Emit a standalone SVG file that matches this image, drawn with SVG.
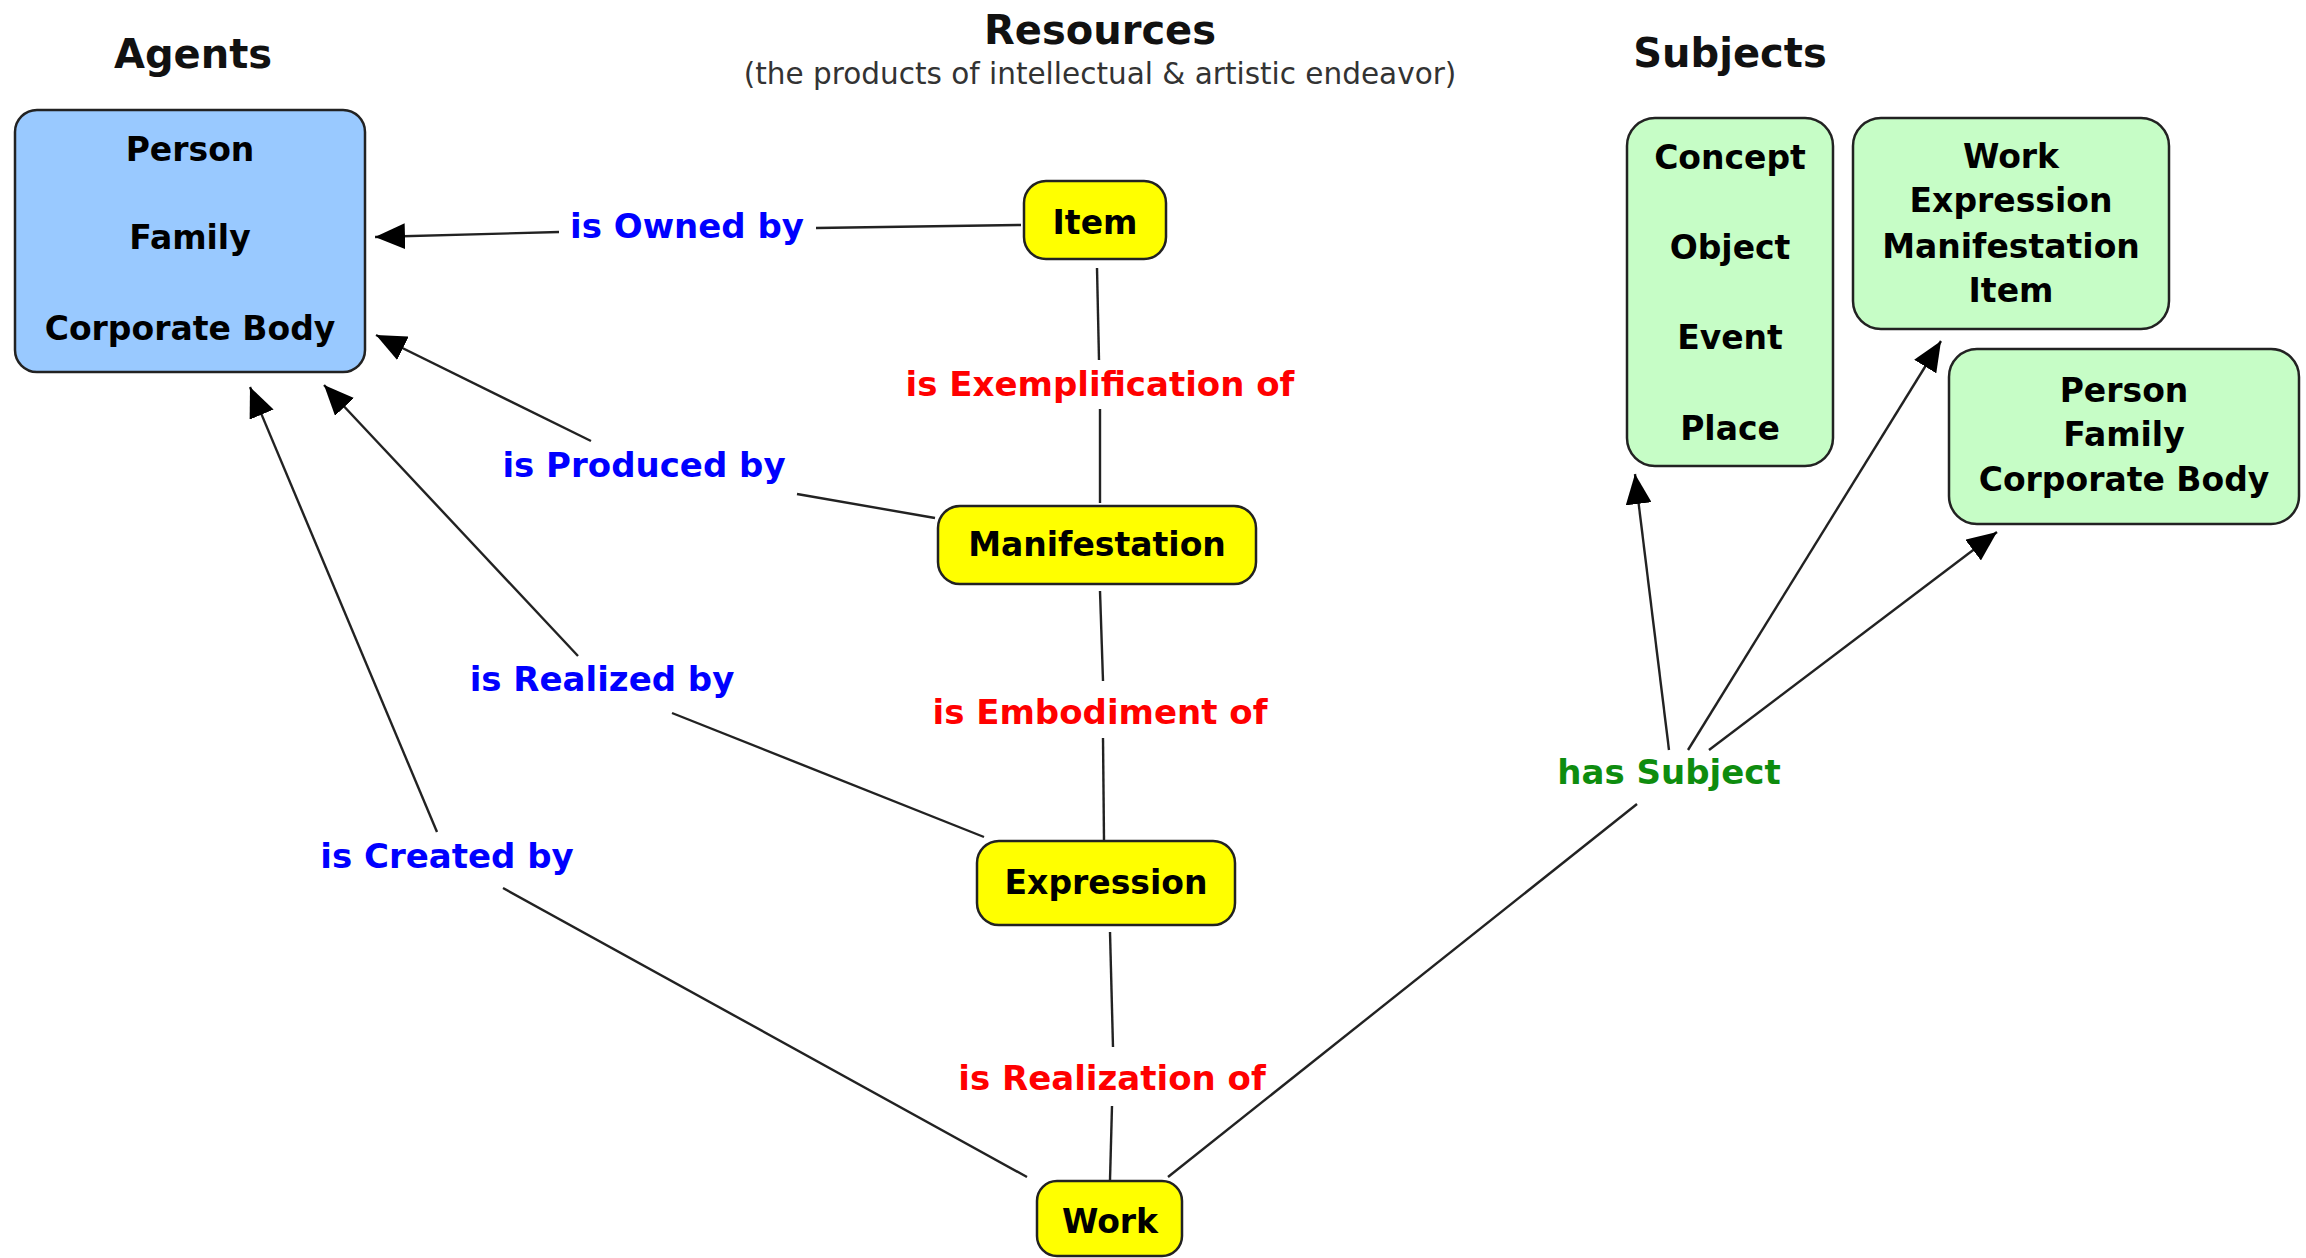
<svg xmlns="http://www.w3.org/2000/svg" width="2306" height="1258" viewBox="0 0 2306 1258">
<style>
text{font-family:"DejaVu Sans","Liberation Sans",sans-serif;font-weight:bold;text-anchor:middle}
.t{font-size:40px;fill:#111}
.sub{font-size:29.5px;font-weight:normal;fill:#333}
.n{font-size:33px;fill:#000}
.l{font-size:34px}
.b{fill:#0000ff}.r{fill:#ff0000}.g{fill:#0e8c0e}
.agent{fill:#99c9ff;stroke:#222;stroke-width:2.5}
.res{fill:#ffff00;stroke:#222;stroke-width:2.5}
.subj{fill:#c6fdc6;stroke:#222;stroke-width:2.5}
.c line{stroke:#222;stroke-width:2.4}
</style>
<defs>
<marker id="arr" markerWidth="30" markerHeight="26" refX="30" refY="13" orient="auto" markerUnits="userSpaceOnUse"><path d="M0,0 L30,13 L0,26 z" fill="#000"/></marker>
</defs>
<rect width="2306" height="1258" fill="#fff"/>
<g id="titles">
<text class="t" x="193" y="68">Agents</text>
<text class="t" x="1100" y="44">Resources</text>
<text class="sub" x="1100" y="84">(the products of intellectual &amp; artistic endeavor)</text>
<text class="t" x="1730" y="67">Subjects</text>
</g>
<g class="c" id="connectors">
<line x1="1021" y1="225" x2="816" y2="228"/>
<line x1="559" y1="232" x2="375" y2="237" marker-end="url(#arr)"/>
<line x1="1097" y1="268" x2="1099" y2="360"/>
<line x1="1100" y1="409" x2="1100" y2="503"/>
<line x1="935" y1="518" x2="797" y2="494"/>
<line x1="591" y1="441" x2="376" y2="335" marker-end="url(#arr)"/>
<line x1="1100" y1="591" x2="1103" y2="681"/>
<line x1="1103" y1="738" x2="1104" y2="840"/>
<line x1="984" y1="837" x2="672" y2="713"/>
<line x1="578" y1="656" x2="324" y2="385" marker-end="url(#arr)"/>
<line x1="1110" y1="932" x2="1113" y2="1047"/>
<line x1="1112" y1="1106" x2="1110" y2="1180"/>
<line x1="1027" y1="1177" x2="503" y2="888"/>
<line x1="437" y1="832" x2="250" y2="387" marker-end="url(#arr)"/>
<line x1="1168" y1="1177" x2="1637" y2="804"/>
<line x1="1669" y1="750" x2="1635" y2="474" marker-end="url(#arr)"/>
<line x1="1688" y1="750" x2="1941" y2="341" marker-end="url(#arr)"/>
<line x1="1709" y1="750" x2="1997" y2="532" marker-end="url(#arr)"/>
</g>
<g id="labels">
<text class="l b" x="687" y="238">is Owned by</text>
<text class="l r" x="1100" y="396">is Exemplification of</text>
<text class="l b" x="644" y="477">is Produced by</text>
<text class="l r" x="1100" y="724">is Embodiment of</text>
<text class="l b" x="602" y="691">is Realized by</text>
<text class="l r" x="1112" y="1090">is Realization of</text>
<text class="l b" x="447" y="868">is Created by</text>
<text class="l g" x="1669" y="784">has Subject</text>
</g>
<g id="agents">
<rect class="agent" x="15" y="110" width="350" height="262" rx="22"/>
<text class="n" x="190" y="161">Person</text>
<text class="n" x="190" y="249">Family</text>
<text class="n" x="190" y="340">Corporate Body</text>
</g>
<g id="item">
<rect class="res" x="1024" y="181" width="142" height="78" rx="22"/>
<text class="n" x="1095" y="234">Item</text>
</g>
<g id="manifestation">
<rect class="res" x="938" y="506" width="318" height="78" rx="22"/>
<text class="n" x="1097" y="556">Manifestation</text>
</g>
<g id="expression">
<rect class="res" x="977" y="841" width="258" height="84" rx="22"/>
<text class="n" x="1106" y="894">Expression</text>
</g>
<g id="work">
<rect class="res" x="1037" y="1181" width="145" height="75" rx="20"/>
<text class="n" x="1110" y="1233">Work</text>
</g>
<g id="subj-concepts">
<rect class="subj" x="1627" y="118" width="206" height="348" rx="28"/>
<text class="n" x="1730" y="169">Concept</text>
<text class="n" x="1730" y="259">Object</text>
<text class="n" x="1730" y="349">Event</text>
<text class="n" x="1730" y="440">Place</text>
</g>
<g id="subj-resources">
<rect class="subj" x="1853" y="118" width="316" height="211" rx="28"/>
<text class="n" x="2011" y="168">Work</text>
<text class="n" x="2011" y="212">Expression</text>
<text class="n" x="2011" y="258">Manifestation</text>
<text class="n" x="2011" y="302">Item</text>
</g>
<g id="subj-agents">
<rect class="subj" x="1949" y="349" width="350" height="175" rx="28"/>
<text class="n" x="2124" y="402">Person</text>
<text class="n" x="2124" y="446">Family</text>
<text class="n" x="2124" y="491">Corporate Body</text>
</g>
</svg>
